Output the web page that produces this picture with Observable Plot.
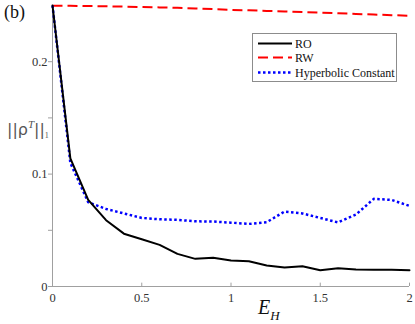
<!DOCTYPE html>
<html>
<head>
<meta charset="utf-8">
<script src="https://cdn.jsdelivr.net/npm/d3@7"></script>
<script src="https://cdn.jsdelivr.net/npm/@observablehq/plot@0.6"></script>
<style>
  html, body { margin: 0; padding: 0; background: #fff; }
  #chart { width: 415px; height: 324px; }
  #chart svg text { font-family: 'Liberation Serif', 'Times New Roman', serif; }
</style>
</head>
<body>
<div id="chart"></div>
<script>
const eh = [0, 0.1, 0.2, 0.3, 0.4, 0.5, 0.6, 0.7, 0.8, 0.9, 1.0, 1.1, 1.2, 1.3, 1.4, 1.5, 1.6, 1.7, 1.8, 1.9, 2.0];
const ro = [0.25, 0.114, 0.077, 0.059, 0.047, 0.042, 0.037, 0.029, 0.0246, 0.0255, 0.0231, 0.0225, 0.0187, 0.0168, 0.018, 0.0145, 0.0163, 0.0152, 0.0149, 0.0148, 0.0144];
const rw = [0.2498, 0.2497, 0.2495, 0.2493, 0.2490, 0.2487, 0.2483, 0.2479, 0.2474, 0.2468, 0.2461, 0.2457, 0.2452, 0.2447, 0.2442, 0.2436, 0.2431, 0.2425, 0.2420, 0.2414, 0.2409];
const hc = [0.25, 0.110, 0.075, 0.069, 0.065, 0.061, 0.0598, 0.0593, 0.058, 0.0578, 0.0568, 0.0557, 0.0572, 0.0667, 0.065, 0.061, 0.057, 0.064, 0.078, 0.077, 0.0717];
const seriesNames = ["RO", "RW", "Hyperbolic Constant"];
const xTicks = [0, 0.5, 1, 1.5, 2];
const yTicksMinor = [0, 0.05, 0.1, 0.15, 0.2];
const yTickLabels = [0, 0.1, 0.2];

const toRows = vals => eh.map((x, i) => ({x, y: vals[i]}));
const roRows = toRows(ro), rwRows = toRows(rw), hcRows = toRows(hc);

const axisGray = "#a0a0a0";
const serif = "'Liberation Serif', 'Times New Roman', serif";

const plot = Plot.plot({
  width: 415,
  height: 324,
  marginLeft: 52,
  marginRight: 6,
  marginTop: 5,
  marginBottom: 38,
  style: {fontFamily: serif, fontSize: "12px", color: "#333", background: "#fff", overflow: "visible"},
  x: {domain: [0, 2]},
  y: {domain: [0, 0.25]},
  marks: [
    Plot.ruleX([0], {stroke: axisGray, strokeWidth: 1}),
    Plot.ruleY([0], {stroke: axisGray, strokeWidth: 1}),
    Plot.ruleX(xTicks, {y1: 0, y2: 0.003, stroke: axisGray}),
    Plot.axisX({ticks: xTicks, tickSize: 0, tickPadding: 7, tickFormat: d => String(d), label: null, fill: "#333", fontFamily: serif, fontSize: 12.5}),
    Plot.axisY({ticks: yTicksMinor, tickSize: 4, tickPadding: 1, stroke: axisGray, text: null, label: null}),
    Plot.axisY({ticks: yTickLabels, tickSize: 0, tickPadding: 5, tickFormat: d => String(d), label: null, fill: "#333", fontFamily: serif, fontSize: 12.5}),
    Plot.line(rwRows, {x: "x", y: "y", stroke: "#ff0000", strokeWidth: 2, strokeDasharray: "10,5", strokeLinecap: "butt"}),
    Plot.line(hcRows, {x: "x", y: "y", stroke: "#0000ff", strokeWidth: 2.5, strokeDasharray: "2.5,2.5", strokeLinecap: "butt"}),
    Plot.line(roRows, {x: "x", y: "y", stroke: "#000", strokeWidth: 2})
  ]
});

document.getElementById("chart").appendChild(plot);

const svg = d3.select(plot);

// panel label
svg.append("text").attr("x", 4).attr("y", 18).attr("text-anchor", "start")
  .attr("font-family", serif).attr("font-size", 18).attr("fill", "#111").text("(b)");

// y axis label ||ρ^T||_1
const yl = svg.append("text").attr("x", 7).attr("y", 135).attr("text-anchor", "start")
  .style("font-family", "'DejaVu Sans', sans-serif").attr("fill", "#555").attr("font-size", 16);
yl.append("tspan").text("||ρ");
yl.append("tspan").style("font-family", serif).attr("font-style", "italic").attr("font-size", 11).attr("dy", -7).text("T");
yl.append("tspan").attr("dy", 7).text("||");
yl.append("tspan").style("font-family", serif).attr("font-size", 8).attr("dy", 3).text("1");

// x axis label E_H
const xl = svg.append("text").attr("x", 258).attr("y", 314).attr("text-anchor", "start")
  .attr("font-family", serif).attr("font-style", "italic").attr("fill", "#111").attr("font-size", 20);
xl.append("tspan").text("E");
xl.append("tspan").attr("font-size", 13).attr("dy", 6).text("H");

// legend
const lg = svg.append("g").attr("text-anchor", "start");
lg.append("rect").attr("x", 252.5).attr("y", 33.5).attr("width", 144).attr("height", 48)
  .attr("fill", "#fff").attr("stroke", "#8c8c8c").attr("stroke-width", 1);
const styles = [
  {stroke: "#000", width: 2, dash: null},
  {stroke: "#ff0000", width: 2, dash: "10,5"},
  {stroke: "#0000ff", width: 2.5, dash: "2.5,2.5"}
];
const ys = [43.5, 57.5, 72.5];
seriesNames.forEach((name, i) => {
  const l = lg.append("line").attr("x1", 258).attr("x2", 292).attr("y1", ys[i]).attr("y2", ys[i])
    .attr("stroke", styles[i].stroke).attr("stroke-width", styles[i].width);
  if (styles[i].dash) l.attr("stroke-dasharray", styles[i].dash);
  lg.append("text").attr("x", 295).attr("y", ys[i] + 4).attr("font-family", serif)
    .attr("font-size", 12).attr("fill", "#111").text(name);
});
</script>
</body>
</html>
